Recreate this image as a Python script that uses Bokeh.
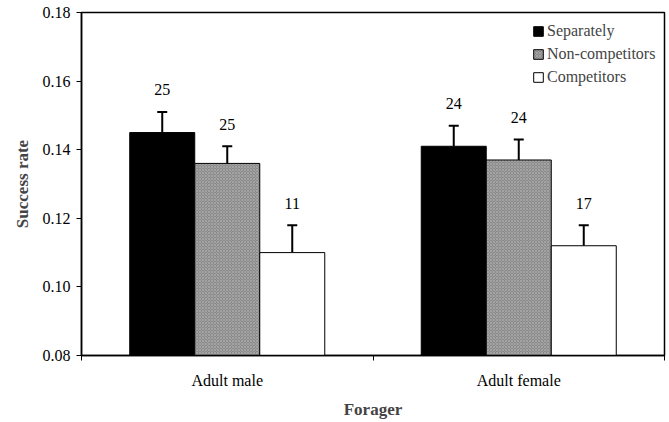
from bokeh.plotting import figure
from bokeh.models import (ColumnDataSource, Range1d, FixedTicker, NumeralTickFormatter,
                          Whisker, TeeHead, Legend)
from bokeh.core.properties import value
from bokeh.embed import file_html
from bokeh.resources import INLINE

categories = ["Adult male", "Adult female"]
series = ["Separately", "Non-competitors", "Competitors"]
separately = [0.145, 0.141]
separately_err = [0.006, 0.006]
noncompetitors = [0.136, 0.137]
noncompetitors_err = [0.005, 0.006]
competitors = [0.110, 0.112]
competitors_err = [0.008, 0.006]
separately_n = [25, 24]
noncompetitors_n = [25, 24]
competitors_n = [11, 17]
y_ticks = [0.08, 0.10, 0.12, 0.14, 0.16, 0.18]

FONT = "Liberation Serif"

p = figure(width=669, height=422, output_backend="svg", toolbar_location=None,
           x_range=Range1d(0, 2), y_range=Range1d(0.08, 0.18),
           min_border_left=81, min_border_right=5, min_border_top=12, min_border_bottom=67)
p.outline_line_color = "black"
p.outline_line_width = 1.5
p.xgrid.visible = False
p.ygrid.visible = False

bar_w = 0.223
centers = [i + 0.5 for i in range(len(categories))]
specs = [
    (separately, separately_err, separately_n, -bar_w, dict(fill_color="black")),
    (noncompetitors, noncompetitors_err, noncompetitors_n, 0.0,
     dict(fill_color="#8a8a8a", hatch_pattern="diagonal_cross", hatch_color="#b4b4b4",
          hatch_scale=3, hatch_weight=0.6)),
    (competitors, competitors_err, competitors_n, bar_w, dict(fill_color="white")),
]

legend_items = []
for name, (vals, errs, ns, off, style) in zip(series, specs):
    xs = [c + off for c in centers]
    src = ColumnDataSource(dict(x=xs, top=vals, upper=[v + e for v, e in zip(vals, errs)],
                                n=[str(k) for k in ns]))
    r = p.vbar(x="x", top="top", bottom=0.08, width=bar_w, source=src,
               line_color="black", line_width=1, **style)
    legend_items.append((name, [r]))
    w = Whisker(base="x", lower="top", upper="upper", source=src, line_color="black",
                line_width=2, lower_head=None,
                upper_head=TeeHead(size=10, line_width=2, line_color="black"))
    p.add_layout(w)
    p.text(x="x", y="upper", text="n", source=src, text_align="center",
           text_baseline="middle", y_offset=-22, text_font=value(FONT),
           text_font_size="16px", text_color="black")

legend = Legend(items=legend_items, location=(451, 269), margin=0, padding=6,
                spacing=5, glyph_width=12, glyph_height=12, label_standoff=3,
                label_text_font=FONT, label_text_font_size="16px",
                border_line_color=None, background_fill_alpha=0)
p.add_layout(legend)

p.yaxis.ticker = FixedTicker(ticks=y_ticks)
p.yaxis.formatter = NumeralTickFormatter(format="0.00")
p.yaxis.minor_tick_line_color = None
p.yaxis.major_tick_out = 5
p.yaxis.major_tick_in = 0
p.yaxis.major_label_standoff = 6
p.yaxis.axis_line_width = 1.5
p.yaxis.major_label_text_font = FONT
p.yaxis.major_label_text_font_size = "16px"
p.yaxis.major_label_text_color = "black"
p.yaxis.axis_label = "Success rate"
p.yaxis.axis_label_text_font = FONT
p.yaxis.axis_label_text_font_size = "17px"
p.yaxis.axis_label_text_font_style = "bold"
p.yaxis.axis_label_standoff = 8

p.xaxis.ticker = FixedTicker(ticks=centers, minor_ticks=[0, 1, 2])
p.xaxis.major_label_overrides = {c: lab for c, lab in zip(centers, categories)}
p.xaxis.major_tick_out = 0
p.xaxis.major_tick_in = 0
p.xaxis.minor_tick_out = 5
p.xaxis.minor_tick_in = 0
p.xaxis.minor_tick_line_color = "black"
p.xaxis.axis_line_width = 1.5
p.xaxis.major_label_standoff = 11
p.xaxis.major_label_text_font = FONT
p.xaxis.major_label_text_font_size = "16px"
p.xaxis.major_label_text_color = "black"
p.xaxis.axis_label = "Forager"
p.xaxis.axis_label_text_font = FONT
p.xaxis.axis_label_text_font_size = "17px"
p.xaxis.axis_label_text_font_style = "bold"
p.xaxis.axis_label_standoff = 8

open("out.html", "w").write(file_html(p, INLINE))
